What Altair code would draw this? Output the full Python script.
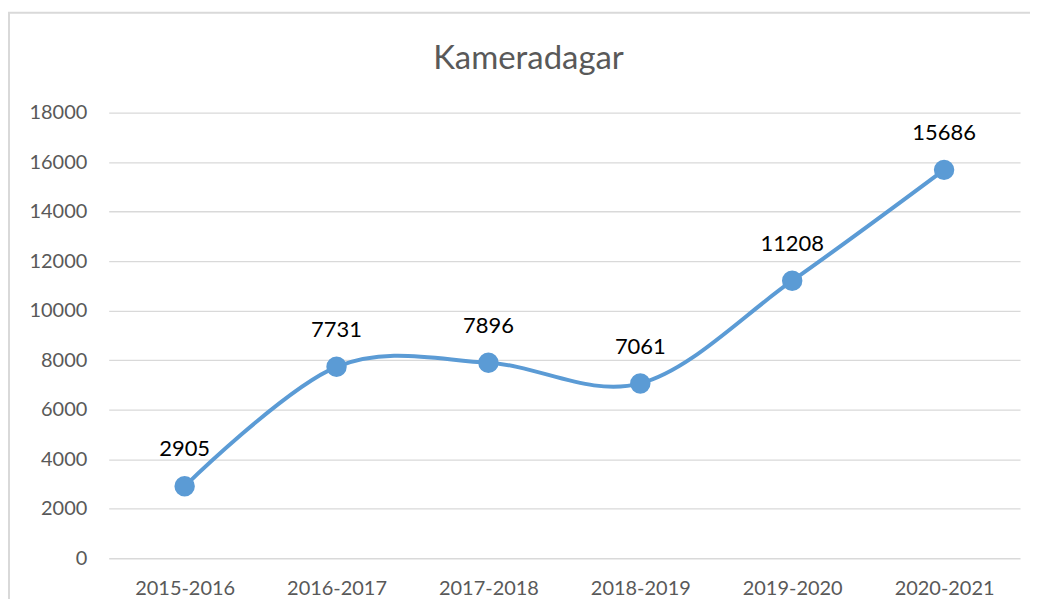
import altair as alt
import pandas as pd

seasons = ["2015-2016", "2016-2017", "2017-2018", "2018-2019", "2019-2020", "2020-2021"]
values = [2905, 7731, 7896, 7061, 11208, 15686]
y_ticks = [0, 2000, 4000, 6000, 8000, 10000, 12000, 14000, 16000, 18000]
title_text = "Kameradagar"

df = pd.DataFrame({"season": seasons, "value": values})

FONT = "Lato"
BLUE = "#5b9bd5"

x = alt.X("season:N", sort=seasons, title=None,
          scale=alt.Scale(paddingInner=0, paddingOuter=0.5, align=0.5),
          axis=alt.Axis(labelAngle=0, ticks=False, domain=False, grid=False,
                        labelPadding=20, labelFontSize=20, labelColor="#595959",
                        labelFont=FONT))
y = alt.Y("value:Q", title=None,
          scale=alt.Scale(domain=[0, 18000], nice=False),
          axis=alt.Axis(values=y_ticks, format="d", ticks=False, domain=False, grid=True,
                        gridColor="#d9d9d9", gridWidth=1.3, labelPadding=22,
                        labelFontSize=20, labelColor="#595959", labelFont=FONT))

base = alt.Chart(df)

deco = pd.DataFrame({"t": [title_text]})
border = alt.Chart(deco).mark_rect(
    fill=None, stroke="#d9d9d9", strokeWidth=2, clip=False
).encode(x=alt.value(-100), x2=alt.value(927), y=alt.value(-100), y2=alt.value(520))
title = alt.Chart(deco).mark_text(fontSize=33, font=FONT, color="#595959", baseline="middle",
                                  align="center").encode(
    x=alt.value(421), y=alt.value(-54), text="t:N")

line = base.mark_line(color=BLUE, strokeWidth=4, interpolate="cardinal", tension=0).encode(x=x, y=y)
points = base.mark_circle(color=BLUE, size=420, opacity=1).encode(x=x, y=y)
labels = base.mark_text(fontSize=22, color="#000000", font=FONT, dy=-37, baseline="middle").encode(
    x=x, y=y, text=alt.Text("value:Q", format="d"))

chart = alt.layer(border, title, line, points, labels).properties(
    width=914, height=447,
    autosize=alt.AutoSizeParams(type="none"),
    padding={"left": 101, "top": 104, "right": 10, "bottom": 40},
).configure_view(stroke=None)

chart.save("out.html", embed_options={"renderer": "svg", "actions": False})
